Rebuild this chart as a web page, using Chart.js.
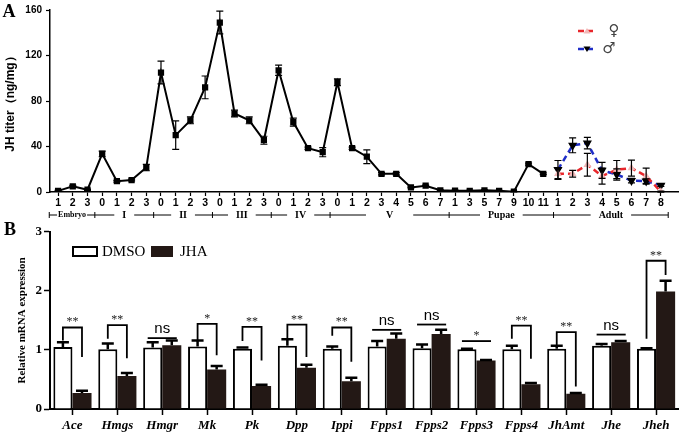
<!DOCTYPE html>
<html>
<head>
<meta charset="utf-8">
<script src="https://cdn.jsdelivr.net/npm/chart.js@4.4.0/dist/chart.umd.min.js"></script>
<style>
  html, body { margin: 0; padding: 0; background: #fff; }
  #wrap { position: relative; width: 685px; height: 435px; }
  canvas { position: absolute; left: 0; }
  #chartA { top: 0; }
  #chartB { top: 222px; }
</style>
</head>
<body>
<div id="wrap">
  <canvas id="chartA" width="685" height="222"></canvas>
  <canvas id="chartB" width="685" height="213"></canvas>
</div>
<script>
// ---- panel A data ----
const xLabels = ['1','2','3', '0','1','2','3', '0','1','2','3', '0','1','2','3', '0','1','2','3',
  '0','1','2','3','4','5','6','7', '1','3','5','7','9','10','11', '1','2','3','4','5','6','7','8'];
const stageNames = ['Embryo','I','II','III','IV','V','Pupae','Adult'];
const stageBounds = [-0.6, 2.5, 6.5, 10.5, 14.5, 18.5, 26.6, 33.7, 41.5];

const titer = [1, 5, 2, 33.5, 9.5, 10.5, 21.5, 105, 50, 63, 92, 149, 69, 63, 45.5,
  107, 61.5, 38.5, 35, 96.5, 38.5, 31, 16, 16, 4, 5.5, 1.5, 1.2, 1, 1.5, 1, 0.3, 24.5, 16];
const titerErr = [0.5, 0.8, 0.5, 2.5, 0.8, 0.8, 2.8, 10, 12.5, 3, 10, 10, 3, 3, 3.5,
  4.5, 3.5, 1, 4, 3, 1, 6, 1, 1, 0.5, 0.5, 0.5, 0.5, 0.5, 0.5, 0.5, 0.3, 0.8, 0.8];
const female = [16, 16, 24, 14, 19.7, 21, 14, 0.3];
const femaleErr = [5, 3, 10, 7, 8, 7, 7, 0.5];
const male = [19.7, 41, 43, 19, 15.4, 10, 9.5, 5.8];
const maleErr = [8, 6.5, 5, 7, 5, 2, 2, 0.8];

// ---- panel B data ----
const genes = ['Ace','Hmgs','Hmgr','Mk','Pk','Dpp','Ippi','Fpps1','Fpps2','Fpps3','Fpps4','JhAmt','Jhe','Jheh'];
const dmso = [1.05, 1.01, 1.04, 1.06, 1.02, 1.07, 1.02, 1.06, 1.03, 1.01, 1.01, 1.02, 1.07, 1.02];
const dmsoErr = [0.08, 0.10, 0.09, 0.10, 0.02, 0.11, 0.04, 0.09, 0.06, 0.01, 0.06, 0.05, 0.03, 0.01];
const jha = [0.27, 0.56, 1.08, 0.67, 0.39, 0.70, 0.47, 1.19, 1.27, 0.82, 0.42, 0.26, 1.13, 1.99];
const jhaErr = [0.04, 0.05, 0.08, 0.06, 0.02, 0.05, 0.06, 0.09, 0.07, 0.01, 0.02, 0.01, 0.02, 0.18];
const sigMarks = ['**','**','ns','*','**','**','**','ns','ns','*','**','**','ns','**'];
const sigTop = [1.38, 1.42, 1.20, 1.44, 1.39, 1.43, 1.38, 1.34, 1.43, 1.15, 1.41, 1.30, 1.26, 2.51];
const sigLeft = [1.16, 1.19, null, 1.16, 1.15, 1.19, 1.24, null, null, null, 1.19, 1.06, null, 1.19];
const sigRight = [0.88, 0.86, null, 0.91, 0.82, 0.88, 0.80, null, null, null, 0.85, 0.38, null, 2.27];

const SANS = '"Liberation Sans", Arial, sans-serif';
const SERIF = '"Liberation Serif", "Times New Roman", serif';

// error bars from each dataset's "errors" array
const errorBars = {
  id: 'errorBars',
  afterDatasetsDraw(chart, args, opts) {
    const ctx = chart.ctx;
    const ys = chart.scales.y;
    chart.data.datasets.forEach((ds, di) => {
      if (!ds.errors) return;
      const meta = chart.getDatasetMeta(di);
      ctx.save();
      ctx.strokeStyle = '#000';
      ctx.lineWidth = opts.width;
      meta.data.forEach((el, i) => {
        const e = ds.errors[i];
        if (!e) return;
        const v = meta.controller.getParsed(i).y;
        const top = ys.getPixelForValue(v + e);
        const bot = opts.upOnly ? el.y : ys.getPixelForValue(v - e);
        ctx.beginPath();
        ctx.moveTo(el.x, bot); ctx.lineTo(el.x, top);
        ctx.moveTo(el.x - opts.cap, top); ctx.lineTo(el.x + opts.cap, top);
        if (!opts.upOnly) { ctx.moveTo(el.x - opts.cap, bot); ctx.lineTo(el.x + opts.cap, bot); }
        ctx.stroke();
      });
      ctx.restore();
    });
  }
};

const panelLabel = {
  id: 'panelLabel',
  afterDraw(chart, args, opts) {
    const ctx = chart.ctx;
    ctx.save();
    ctx.font = 'bold 18px ' + SERIF;
    ctx.fillStyle = '#000';
    ctx.textAlign = 'center';
    ctx.textBaseline = 'middle';
    ctx.fillText(opts.text, opts.x, opts.y);
    ctx.restore();
  }
};

// stage brackets under the x axis of panel A
const stageRow = {
  id: 'stageRow',
  afterDraw(chart) {
    const ctx = chart.ctx, xs = chart.scales.x;
    const y = 215;
    ctx.save();
    ctx.strokeStyle = '#000';
    ctx.fillStyle = '#000';
    ctx.lineWidth = 1;
    ctx.textAlign = 'center';
    ctx.textBaseline = 'middle';
    stageNames.forEach((name, i) => {
      const x0 = xs.getPixelForValue(stageBounds[i]);
      const x1 = xs.getPixelForValue(stageBounds[i + 1]);
      ctx.font = (name === 'Embryo' ? 'bold 8px ' : 'bold 10px ') + SERIF;
      const pad = name === 'Embryo' ? 1 : (name === 'V' ? 20 : 8);
      const half = ctx.measureText(name).width / 2 + pad;
      const cx = (x0 + x1) / 2;
      ctx.beginPath();
      ctx.moveTo(x0, y); ctx.lineTo(cx - half, y);
      ctx.moveTo(cx + half, y); ctx.lineTo(x1, y);
      ctx.stroke();
      ctx.fillText(name, cx, y);
    });
    stageBounds.forEach(b => {
      const x = xs.getPixelForValue(b);
      ctx.beginPath(); ctx.moveTo(x, y - 3); ctx.lineTo(x, y + 3); ctx.stroke();
    });
    ctx.restore();
  }
};

const legendA = {
  id: 'legendA',
  afterDraw(chart) {
    const ctx = chart.ctx;
    const items = [
      { color: '#e8262b', y: 31, sym: '\u2640', tx: 614, mark: '#f2b8b8', down: false },
      { color: '#1f2ec8', y: 49, sym: '\u2642', tx: 609, mark: '#000', down: true }
    ];
    ctx.save();
    items.forEach(it => {
      ctx.strokeStyle = it.color;
      ctx.lineWidth = 2.5;
      ctx.setLineDash([6, 3]);
      ctx.beginPath(); ctx.moveTo(578, it.y); ctx.lineTo(596, it.y); ctx.stroke();
      ctx.setLineDash([]);
      ctx.fillStyle = it.mark;
      ctx.beginPath();
      if (it.down) { ctx.moveTo(583.5, it.y - 2.5); ctx.lineTo(590.5, it.y - 2.5); ctx.lineTo(587, it.y + 3); }
      else { ctx.moveTo(583.5, it.y + 2.5); ctx.lineTo(590.5, it.y + 2.5); ctx.lineTo(587, it.y - 3); }
      ctx.closePath(); ctx.fill();
      ctx.fillStyle = '#444';
      ctx.font = '15px "DejaVu Sans"';
      ctx.textAlign = 'center';
      ctx.textBaseline = 'middle';
      ctx.fillText(it.sym, it.tx, it.y);
    });
    ctx.restore();
  }
};

const adultStart = titer.length;

new Chart(document.getElementById('chartA'), {
  type: 'line',
  data: {
    datasets: [
      {
        label: 'JH titer',
        data: titer.map((v, i) => ({ x: i, y: v })),
        errors: titerErr,
        borderColor: '#000', borderWidth: 2,
        pointStyle: 'rect', pointRadius: 3,
        pointBackgroundColor: '#000', pointBorderColor: '#000'
      },
      {
        label: '\u2640',
        data: female.map((v, i) => ({ x: adultStart + i, y: v })),
        errors: femaleErr,
        borderColor: '#e8262b', borderWidth: 2.5, borderDash: [6, 4],
        pointStyle: 'triangle', pointRadius: 2,
        pointBackgroundColor: '#f2b8b8', pointBorderColor: '#f2b8b8'
      },
      {
        label: '\u2642',
        data: male.map((v, i) => ({ x: adultStart + i, y: v })),
        errors: maleErr,
        borderColor: '#1f2ec8', borderWidth: 2.5, borderDash: [6, 4],
        pointStyle: 'triangle', pointRotation: 180, pointRadius: 2.8,
        pointBackgroundColor: '#000', pointBorderColor: '#000'
      }
    ]
  },
  options: {
    responsive: false,
    animation: false,
    layout: { padding: { left: 0, right: 2, top: 0, bottom: 0 } },
    plugins: {
      legend: { display: false },
      tooltip: { enabled: false },
      errorBars: { width: 1.2, cap: 3.5, upOnly: false },
      panelLabel: { text: 'A', x: 9, y: 12 }
    },
    scales: {
      x: {
        type: 'linear',
        min: -0.55, max: 42.2,
        afterBuildTicks: s => { s.ticks = xLabels.map((_, i) => ({ value: i })); },
        afterFit: s => { s.height = 30; },
        ticks: {
          autoSkip: false, maxRotation: 0, padding: 1,
          color: '#000',
          font: { family: SANS, weight: 'bold', size: 10.5 },
          callback: (v) => xLabels[v]
        },
        grid: { drawOnChartArea: false, color: '#000', tickLength: 4, tickWidth: 1.2 },
        border: { color: '#000', width: 1.5 }
      },
      y: {
        min: 0, max: 160,
        afterFit: s => { s.width = 50; },
        ticks: { stepSize: 40, padding: 4, color: '#000', font: { family: SANS, weight: 'bold', size: 10 } },
        grid: { drawOnChartArea: false, color: '#000', tickLength: 4, tickWidth: 1.2 },
        border: { color: '#000', width: 1.5 },
        title: {
          display: true, text: 'JH titer\uff08ng/mg\uff09', color: '#000',
          font: { family: SANS, weight: 'bold', size: 12 },
          padding: { top: 3, bottom: 0 }
        }
      }
    }
  },
  plugins: [errorBars, stageRow, legendA, panelLabel]
});

// significance brackets for panel B
const sigPlugin = {
  id: 'sig',
  afterDatasetsDraw(chart) {
    const ctx = chart.ctx, ys = chart.scales.y;
    const m0 = chart.getDatasetMeta(0), m1 = chart.getDatasetMeta(1);
    ctx.save();
    ctx.strokeStyle = '#000';
    ctx.fillStyle = '#000';
    ctx.lineWidth = 1.8;
    ctx.textAlign = 'center';
    ctx.textBaseline = 'alphabetic';
    sigMarks.forEach((mark, i) => {
      const xl = m0.data[i].x, xr = m1.data[i].x;
      const yt = ys.getPixelForValue(sigTop[i]);
      ctx.beginPath();
      if (sigLeft[i] != null) {
        ctx.moveTo(xl, ys.getPixelForValue(sigLeft[i]));
        ctx.lineTo(xl, yt);
        ctx.lineTo(xr, yt);
        ctx.lineTo(xr, ys.getPixelForValue(sigRight[i]));
      } else {
        ctx.moveTo(xl - 5, yt);
        ctx.lineTo(xr + 5, yt);
      }
      ctx.stroke();
      const cx = (xl + xr) / 2;
      if (mark === 'ns') {
        ctx.font = '15px ' + SANS;
        ctx.fillText('ns', cx, yt - 5);
      } else {
        ctx.font = '12px ' + SERIF;
        ctx.fillStyle = '#222';
        ctx.fillText(mark, cx, yt - 2);
        ctx.fillStyle = '#000';
      }
    });
    ctx.restore();
  }
};

const legendB = {
  id: 'legendB',
  afterDraw(chart) {
    const ctx = chart.ctx;
    ctx.save();
    ctx.fillStyle = '#fff';
    ctx.strokeStyle = '#000';
    ctx.lineWidth = 2;
    ctx.fillRect(73, 25, 24, 9);
    ctx.strokeRect(73, 25, 24, 9);
    ctx.fillStyle = '#231815';
    ctx.fillRect(151, 24, 22, 11);
    ctx.fillStyle = '#000';
    ctx.font = '15px ' + SERIF;
    ctx.textBaseline = 'middle';
    ctx.fillText('DMSO', 102, 30);
    ctx.fillText('JHA', 180, 30);
    ctx.restore();
  }
};

new Chart(document.getElementById('chartB'), {
  type: 'bar',
  data: {
    labels: genes,
    datasets: [
      {
        label: 'DMSO', data: dmso, errors: dmsoErr,
        backgroundColor: '#fff', borderColor: '#000', borderWidth: 2,
        categoryPercentage: 0.85, barPercentage: 1
      },
      {
        label: 'JHA', data: jha, errors: jhaErr,
        backgroundColor: '#231815', borderWidth: 0,
        categoryPercentage: 0.85, barPercentage: 1
      }
    ]
  },
  options: {
    responsive: false,
    animation: false,
    layout: { padding: { left: 0, right: 6.5, top: 0, bottom: 0 } },
    plugins: {
      legend: { display: false },
      tooltip: { enabled: false },
      errorBars: { width: 2.5, cap: 6, upOnly: true },
      panelLabel: { text: 'B', x: 10, y: 8 }
    },
    scales: {
      x: {
        afterFit: s => { s.height = 26; },
        ticks: { padding: 3, color: '#000', font: { family: SERIF, style: 'italic', weight: 'bold', size: 13 } },
        grid: { offset: false, drawOnChartArea: false, color: '#000', tickLength: 6, tickWidth: 1.5 },
        border: { color: '#000', width: 2 }
      },
      y: {
        min: 0, max: 3,
        afterFit: s => { s.width = 50; },
        ticks: { stepSize: 1, padding: 2, color: '#000', font: { family: SERIF, weight: 'bold', size: 13 } },
        grid: { drawOnChartArea: false, color: '#000', tickLength: 6, tickWidth: 1.5 },
        border: { color: '#000', width: 2 },
        title: {
          display: true, text: 'Relative mRNA expression', color: '#000',
          font: { family: SERIF, weight: 'bold', size: 11 },
          padding: { top: 16, bottom: 0 }
        }
      }
    }
  },
  plugins: [errorBars, sigPlugin, legendB, panelLabel]
});
</script>
</body>
</html>
